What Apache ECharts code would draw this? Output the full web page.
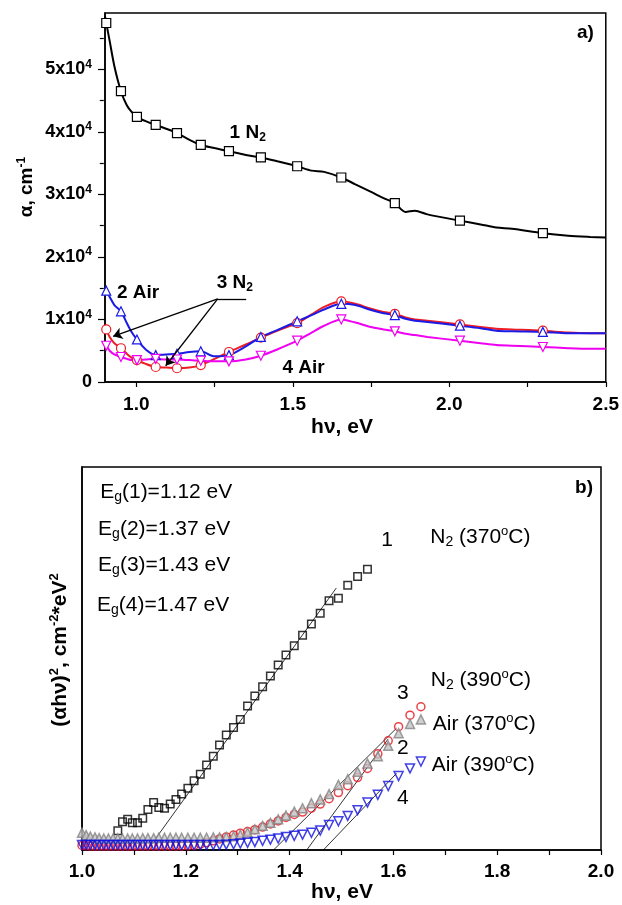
<!DOCTYPE html>
<html><head><meta charset="utf-8">
<script src="https://cdn.jsdelivr.net/npm/echarts@6/dist/echarts.min.js"></script>
<style>html,body{margin:0;padding:0;background:#fff}#c{width:622px;height:905px}</style>
</head><body><div id="c"></div>
<script>
// ---------- panel a) absorption coefficient ----------
const topEnergy = [0.900,0.904,0.915,0.930,0.951,0.970,0.985,1.002,1.030,1.062,1.095,1.130,1.170,1.206,1.250,1.296,1.350,1.398,1.450,1.514,1.560,1.600,1.655,1.700,1.750,1.790,1.826,1.860,1.890,1.930,2.034,2.100,2.150,2.200,2.299,2.380,2.450,2.500];
const alpha1N2 = [58500,57400,54500,50500,46500,44200,43200,42400,41700,41100,40500,39800,38700,37900,37400,36900,36300,35900,35300,34500,33800,33600,32700,31600,30400,29400,28600,27200,27400,26800,25800,25200,24700,24500,23800,23400,23200,23100];
const alpha2Air = [14800,14600,13600,12300,11300,9400,8000,6800,5200,4300,4400,4500,4800,4900,4100,4300,5700,7200,8300,9700,10700,11600,12500,12300,11500,11000,10700,10100,9800,9600,9000,8600,8200,8100,8000,7800,7800,7800];
const alpha3N2 = [9000,8400,7200,6200,5400,4500,3900,3500,2900,2400,2300,2200,2300,2700,3700,4800,6000,7100,8200,9400,10800,12000,12900,12500,11700,11200,10900,10300,10000,9800,9200,8800,8500,8400,8200,7900,7800,7800];
const alpha4Air = [5900,5800,5000,4400,4000,3700,3500,3500,3600,3700,3600,3600,3500,3400,3300,3300,3600,4200,5200,6600,7900,9000,10000,9500,8800,8400,8100,7700,7500,7200,6600,6200,5900,5800,5600,5400,5300,5300];
const topMarkerEnergy = [0.904,0.951,1.002,1.062,1.130,1.206,1.296,1.398,1.514,1.655,1.826,2.034,2.299];
const topXTicks = [1.0,1.5,2.0,2.5];
const topXMinorTicks = [1.25,1.75,2.25];
const topYTicks = [0,10000,20000,30000,40000,50000];
const topYMinorTicks = [5000,15000,25000,35000,45000,55000];

// ---------- panel b) Tauc plot ----------
const botEnergy = [1.000,1.008,1.016,1.025,1.033,1.042,1.051,1.060,1.069,1.078,1.088,1.097,1.107,1.117,1.127,1.138,1.148,1.159,1.170,1.181,1.192,1.204,1.216,1.228,1.240,1.253,1.265,1.278,1.292,1.305,1.319,1.333,1.348,1.363,1.378,1.393,1.409,1.425,1.442,1.459,1.476,1.494,1.512,1.531,1.550,1.570,1.590,1.610,1.632,1.653];
const tauc1 = [null,null,null,null,null,null,null,null,5.0,7.4,8.0,7.1,7.1,8.3,10.6,12.4,11.1,10.9,12.0,13.2,14.6,16.1,18.1,19.8,22.2,24.5,27.4,30.0,32.0,34.1,37.6,40.2,42.6,45.4,48.3,50.9,53.3,56.1,59.0,61.8,65.1,65.7,69.1,71.4,73.3,null,null,null,null,null];
const tauc2 = [4.5,3.9,3.5,3.3,3.1,3.0,3.0,3.0,3.0,3.0,3.0,3.0,3.0,3.1,3.1,3.1,3.2,3.2,3.2,3.2,3.2,3.2,3.2,3.2,3.2,3.3,3.3,3.4,3.6,4.0,4.6,5.4,6.3,7.1,8.0,9.0,10.0,10.9,12.2,13.2,14.6,17.0,18.5,20.4,22.6,24.5,27.2,30.5,32.9,34.1];
const tauc3 = [1.2,1.1,1.0,1.0,1.0,1.0,1.0,1.0,1.0,1.0,1.0,1.0,1.0,1.0,1.0,1.0,1.0,1.0,1.0,1.0,1.0,1.1,1.2,1.5,1.9,2.4,2.9,3.4,3.9,4.4,4.8,5.3,6.0,6.8,7.6,8.5,9.3,9.9,10.9,12.0,13.4,15.0,16.8,18.9,21.3,25.1,28.5,32.2,35.2,37.4];
const tauc4 = [1.3,1.3,1.3,1.3,1.3,1.3,1.3,1.3,1.3,1.3,1.3,1.3,1.3,1.3,1.3,1.3,1.3,1.3,1.3,1.3,1.3,1.3,1.3,1.3,1.3,1.3,1.3,1.4,1.5,1.7,1.9,2.1,2.4,2.7,3.0,3.4,3.7,4.0,4.5,5.1,6.5,7.5,8.9,10.4,12.4,14.4,16.7,19.3,21.3,23.1];
const fit1 = [[1.126,0],[1.49,68.4]];
const fit2 = [[1.369,0],[1.606,31.8]];
const fit3 = [[1.433,0],[1.59,29.0]];
const fit4 = [[1.465,0],[1.606,20.0]];
const botXTicks = [1.0,1.2,1.4,1.6,1.8,2.0];
const botXMinorTicks = [1.1,1.3,1.5,1.7,1.9];

const FONT = "'Liberation Sans', Arial, sans-serif";

function topSeries(vals, color, symbol, rotate) {
  return {
    type: 'line', xAxisIndex: 0, yAxisIndex: 0, smooth: 0.3,
    showSymbol: true, showAllSymbol: true, symbolSize: 9, symbolRotate: rotate || 0,
    data: topEnergy.map((x, i) => ({ value: [x, vals[i]], symbol: topMarkerEnergy.includes(x) ? symbol : 'none' })),
    lineStyle: { color: color, width: 2 },
    itemStyle: { color: '#fff', borderColor: color, borderWidth: 1.2 },
    z: 3
  };
}
function botScatter(vals, symbol, fill, border, rotate, size) {
  const d = [];
  botEnergy.forEach((x, i) => { if (vals[i] !== null) d.push([x, vals[i]]); });
  return {
    type: 'scatter', xAxisIndex: 2, yAxisIndex: 2, symbol: symbol, symbolSize: size || 7, symbolRotate: rotate || 0,
    data: d, itemStyle: { color: fill, borderColor: border, borderWidth: 1.5 }, z: 3
  };
}
function fitLine(pts) {
  return { type: 'line', xAxisIndex: 2, yAxisIndex: 2, data: pts, showSymbol: false, symbol: 'none',
    lineStyle: { color: '#000', width: 0.8 }, z: 2, silent: true };
}

const supRich = {
  b: { fontFamily: FONT, fontSize: 18, fontWeight: 'bold', color: '#000', lineHeight: 22 },
  s: { fontFamily: FONT, fontSize: 12, fontWeight: 'bold', color: '#000', lineHeight: 6, verticalAlign: 'top' }
};

const chart = echarts.init(document.getElementById('c'), null, { renderer: 'canvas' });
const option = {
  animation: false,
  backgroundColor: '#fff',
  grid: [
    { left: 105, top: 13, width: 502, height: 369, show: true, borderColor: '#000', borderWidth: 1.5, backgroundColor: 'transparent' },
    { left: 82, top: 467, width: 519, height: 383, show: true, borderColor: '#000', borderWidth: 1.5, backgroundColor: 'transparent' }
  ],
  xAxis: [
    { type: 'value', gridIndex: 0, min: 0.9, max: 2.5,
      axisLine: { lineStyle: { color: '#000', width: 1.5 } },
      axisTick: { customValues: topXTicks.concat(topXMinorTicks), length: 5, lineStyle: { color: '#000', width: 1.2 } },
      axisLabel: { customValues: topXTicks, formatter: v => v.toFixed(1), fontFamily: FONT, fontSize: 19, fontWeight: 'bold', color: '#000', margin: 13 },
      splitLine: { show: false } },
    { type: 'value', gridIndex: 0, min: 0.9, max: 2.5, position: 'top', show: false },
    { type: 'value', gridIndex: 1, min: 1.0, max: 2.0,
      axisLine: { lineStyle: { color: '#000', width: 1.5 } },
      axisTick: { customValues: botXTicks.concat(botXMinorTicks), length: 5, lineStyle: { color: '#000', width: 1.2 } },
      axisLabel: { customValues: botXTicks, formatter: v => v.toFixed(1), fontFamily: FONT, fontSize: 19, fontWeight: 'bold', color: '#000', margin: 12 },
      splitLine: { show: false } }
  ],
  yAxis: [
    { type: 'value', gridIndex: 0, min: 0, max: 59000,
      axisLine: { show: true, lineStyle: { color: '#000', width: 1.5 } },
      axisTick: { customValues: topYTicks, length: 7, lineStyle: { color: '#000', width: 1.2 } },
      axisLabel: { customValues: topYTicks, margin: 13,
        formatter: v => v === 0 ? '{b|0}' : '{b|' + (v / 10000) + 'x10}{s|4}', rich: supRich },
      splitLine: { show: false } },
    { type: 'value', gridIndex: 0, min: 0, max: 59000, position: 'right', offset: -502,
      axisLine: { show: false },
      axisTick: { customValues: topYMinorTicks, length: 4, inside: true, lineStyle: { color: '#000', width: 1.2 } },
      axisLabel: { show: false }, splitLine: { show: false } },
    { type: 'value', gridIndex: 1, min: 0, max: 100,
      axisLine: { show: true, lineStyle: { color: '#000', width: 1.5 } },
      axisTick: { show: false }, axisLabel: { show: false }, splitLine: { show: false } }
  ],
  series: [
    topSeries(alpha1N2, '#000000', 'rect'),
    topSeries(alpha3N2, '#ee1c24', 'circle'),
    topSeries(alpha2Air, '#1a1ae6', 'triangle'),
    Object.assign(topSeries(alpha4Air, '#f000f0', 'triangle', 180), {
      markLine: {
        silent: true, symbol: 'none', label: { show: false },
        lineStyle: { color: '#000', width: 1.3, type: 'solid' },
        data: [
          [{ coord: [1.26, 13300] }, { coord: [1.351, 13300] }],
          [{ coord: [1.26, 13300] }, { coord: [0.926, 7300], symbol: 'arrow', symbolSize: 9 }],
          [{ coord: [1.26, 13300] }, { coord: [1.094, 2600], symbol: 'arrow', symbolSize: 9 }]
        ]
      }
    }),
    fitLine(fit1), fitLine(fit2), fitLine(fit3), fitLine(fit4),
    botScatter(tauc1, 'rect', 'rgba(0,0,0,0)', '#000', 0, 7.5),
    botScatter(tauc3, 'circle', 'rgba(0,0,0,0)', '#e8121b', 0, 8),
    botScatter(tauc2, 'triangle', '#c4c4c4', '#858585', 0, 9),
    botScatter(tauc4, 'triangle', 'rgba(0,0,0,0)', '#1010e0', 180, 9)
  ]
};
chart.setOption(option);

// ---------- annotations (placed in data coordinates) ----------
const annRich = {
  B: { fontFamily: FONT, fontSize: 19, fontWeight: 'bold', color: '#000', lineHeight: 22 },
  Bs: { fontFamily: FONT, fontSize: 12, fontWeight: 'bold', color: '#000', lineHeight: 6, verticalAlign: 'bottom' },
  R: { fontFamily: FONT, fontSize: 21, color: '#000', lineHeight: 25 },
  Rs: { fontFamily: FONT, fontSize: 14, color: '#000', lineHeight: 8, verticalAlign: 'bottom' },
  Rp: { fontFamily: FONT, fontSize: 13, color: '#000', lineHeight: 8, verticalAlign: 'top' },
  T: { fontFamily: FONT, fontSize: 21, fontWeight: 'bold', color: '#000', lineHeight: 25 },
  Tp: { fontFamily: FONT, fontSize: 13, fontWeight: 'bold', color: '#000', lineHeight: 8, verticalAlign: 'top' },
  Y: { fontFamily: FONT, fontSize: 19, fontWeight: 'bold', color: '#000', lineHeight: 23 },
  Yp: { fontFamily: FONT, fontSize: 12, fontWeight: 'bold', color: '#000', lineHeight: 8, verticalAlign: 'top' }
};
const notes = [
  { g: 0, at: [1.298, 39800], text: '{B|1 N}{Bs|2}', align: 'left' },
  { g: 0, at: [0.938, 14200], text: '{B|2 Air}', align: 'left' },
  { g: 0, at: [1.257, 15800], text: '{B|3 N}{Bs|2}', align: 'left' },
  { g: 0, at: [1.467, 2300], text: '{B|4 Air}', align: 'left' },
  { g: 0, at: [2.408, 55800], text: '{B|a)}', align: 'left' },
  { g: 1, at: [1.035, 93.5], text: '{R|E}{Rs|g}{R|(1)=1.12 eV}', align: 'left' },
  { g: 1, at: [1.031, 83.8], text: '{R|E}{Rs|g}{R|(2)=1.37 eV}', align: 'left' },
  { g: 1, at: [1.031, 74.4], text: '{R|E}{Rs|g}{R|(3)=1.43 eV}', align: 'left' },
  { g: 1, at: [1.029, 64.0], text: '{R|E}{Rs|g}{R|(4)=1.47 eV}', align: 'left' },
  { g: 1, at: [1.588, 80.9], text: '{R|1}', align: 'center' },
  { g: 1, at: [1.671, 81.7], text: '{R|N}{Rs|2}{R| (370}{Rp|o}{R|C)}', align: 'left' },
  { g: 1, at: [1.672, 44.4], text: '{R|N}{Rs|2}{R| (390}{Rp|o}{R|C)}', align: 'left' },
  { g: 1, at: [1.618, 41.0], text: '{R|3}', align: 'center' },
  { g: 1, at: [1.676, 32.9], text: '{R|Air (370}{Rp|o}{R|C)}', align: 'left' },
  { g: 1, at: [1.618, 26.6], text: '{R|2}', align: 'center' },
  { g: 1, at: [1.674, 22.2], text: '{R|Air (390}{Rp|o}{R|C)}', align: 'left' },
  { g: 1, at: [1.618, 13.6], text: '{R|4}', align: 'center' },
  { g: 1, at: [1.950, 94.5], text: '{B|b)}', align: 'left' }
];
const graphics = notes.map(n => {
  const p = chart.convertToPixel({ gridIndex: n.g }, n.at);
  return { type: 'text', x: p[0], y: p[1], z: 10, silent: true,
    style: { text: n.text, rich: annRich, align: n.align, verticalAlign: 'middle' } };
});
// axis titles
graphics.push(
  { type: 'text', x: 342, y: 427, z: 10, style: { text: '{T|hν, eV}', rich: annRich, align: 'center', verticalAlign: 'middle' } },
  { type: 'text', x: 342, y: 892, z: 10, style: { text: '{T|hν, eV}', rich: annRich, align: 'center', verticalAlign: 'middle' } },
  { type: 'text', x: 27, y: 187, rotation: Math.PI / 2, z: 10, style: { text: '{Y|α, cm}{Yp|-1}', rich: annRich, align: 'center', verticalAlign: 'middle' } },
  { type: 'text', x: 60, y: 650, rotation: Math.PI / 2, z: 10, style: { text: '{T|(αhν)}{Tp|2}{T|, cm}{Tp|-2}{T|*eV}{Tp|2}', rich: annRich, align: 'center', verticalAlign: 'middle' } }
);
chart.setOption({ graphic: graphics });
</script>
</body></html>
